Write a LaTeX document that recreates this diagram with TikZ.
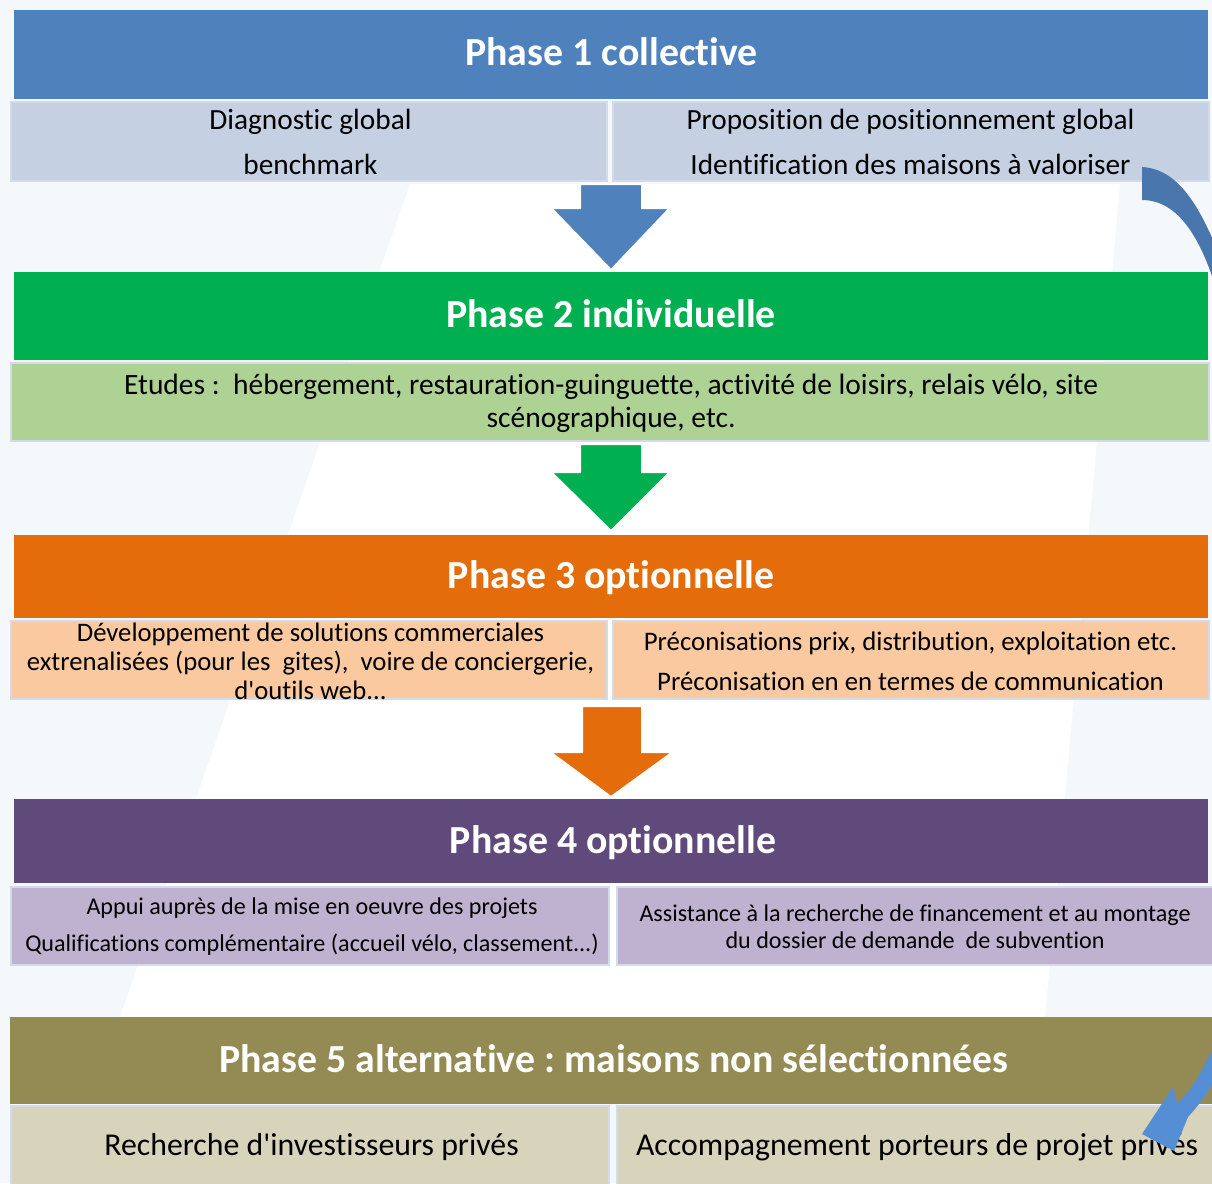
\documentclass[tikz,border=0pt]{standalone}
\usepackage{fontspec}
\setmainfont[Ligatures={NoCommon}]{Carlito}
\frenchspacing
\definecolor{bgc}{HTML}{F5F8FB}
\definecolor{h1}{HTML}{4F81BD}
\definecolor{s1}{HTML}{C5D0E3}
\definecolor{h2}{HTML}{00B050}
\definecolor{s2}{HTML}{ADD294}
\definecolor{h3}{HTML}{E46C0A}
\definecolor{s3}{HTML}{FAC9A0}
\definecolor{h4}{HTML}{604A7B}
\definecolor{s4}{HTML}{BFB1D0}
\definecolor{h5}{HTML}{948A54}
\definecolor{s5}{HTML}{D8D3BB}
\definecolor{edgec}{HTML}{D3DAE8}
\definecolor{curvc}{HTML}{4A76AE}
\definecolor{tipc}{HTML}{558ED5}
\tikzset{
  head/.style={rectangle,inner sep=0pt},
  headtext/.style={text=white,inner sep=0pt,font={\fontsize{39.8}{44}\selectfont\bfseries}},
  sub/.style={rectangle,inner sep=0pt,draw=edgec,line width=2pt},
  subtext/.style={align=center,inner sep=0pt,text=black},
  blockarrow/.style={draw=white,line width=2pt,line join=miter},
}
\begin{document}
\begin{tikzpicture}[x=1pt,y=-1pt]
\useasboundingbox (0,0) rectangle (1212,1183);
\fill[bgc] (0,0) rectangle (1212,1183);
\fill[white] (410,184) -- (1120,184) -- (1045,1017) -- (120,1017) -- cycle;
\begin{scope}
\clip (0,0) rectangle (1212,1183);
% Phase 1
\node[head,fill=h1,minimum width=1194pt,minimum height=89pt] (p1) at (611,54.5) {};
\node[headtext] (p1t) at (611.5,52) {Phase 1 collective};
\node[sub,fill=s1,minimum width=596pt,minimum height=79pt] (p1l) at (309,141.5) {};
\node[sub,fill=s1,minimum width=596pt,minimum height=79pt] (p1r) at (911,141.5) {};
\node[subtext,font={\fontsize{29.3}{45}\selectfont}] (p1lt) at (310.5,141.5) {Diagnostic global\\benchmark};
\node[subtext,font={\fontsize{29.3}{45}\selectfont}] (p1rt) at (910.5,141.5) {Proposition de positionnement global\\Identification des maisons à valoriser};
% Arrow 1
\draw[blockarrow,fill=h1] (580,184) -- (642,184) -- (642,208) -- (670,208) -- (611,270) -- (551,208) -- (580,208) -- cycle;
% Phase 2
\node[head,fill=h2,minimum width=1194pt,minimum height=88pt] (p2) at (611,316) {};
\node[headtext] (p2t) at (611,314) {Phase 2 individuelle};
\node[sub,fill=s2,minimum width=1198pt,minimum height=78pt] (p2s) at (610,402) {};
\node[subtext,font={\fontsize{29.5}{33}\selectfont}] (p2st) at (611,403) {Etudes :\ \ hébergement, restauration-guinguette, activité de loisirs, relais vélo, site\\scénographique, etc.};
% Arrow 2
\draw[blockarrow,fill=h2] (580,444) -- (642,444) -- (642,472) -- (670,472) -- (611,531) -- (551,472) -- (580,472) -- cycle;
% Phase 3
\node[head,fill=h3,minimum width=1194pt,minimum height=83pt] (p3) at (611,576.5) {};
\node[headtext] (p3t) at (611,578) {Phase 3 optionnelle};
\node[sub,fill=s3,minimum width=596pt,minimum height=78pt] (p3l) at (309,660) {};
\node[sub,fill=s3,minimum width=596pt,minimum height=78pt] (p3r) at (911,660) {};
\node[subtext,font={\fontsize{26.7}{29}\selectfont}] (p3lt) at (310.5,661) {Développement de solutions commerciales\\extrenalisées (pour les\ \ gites),\ \ voire de conciergerie,\\d\textquotesingle outils web...};
\node[subtext,font={\fontsize{26.8}{40}\selectfont}] (p3rt) at (910.5,661) {Préconisations prix, distribution, exploitation etc.\\Préconisation en en termes de communication};
% Arrow 3
\draw[blockarrow,fill=h3] (582,706) -- (642,706) -- (642,752) -- (673,752) -- (611,797) -- (550,752) -- (582,752) -- cycle;
% Phase 4
\node[head,fill=h4,minimum width=1194pt,minimum height=84pt] (p4) at (611,841) {};
\node[headtext] (p4t) at (613,843) {Phase 4 optionnelle};
\node[sub,fill=s4,minimum width=598pt,minimum height=78pt] (p4l) at (310,926) {};
\node[sub,fill=s4,minimum width=596pt,minimum height=78pt] (p4r) at (915,926) {};
\node[subtext,font={\fontsize{24.1}{37}\selectfont}] (p4lt) at (312,926.5) {Appui auprès de la mise en oeuvre des projets\\Qualifications complémentaire (accueil vélo, classement...)};
\node[subtext,font={\fontsize{24.1}{27}\selectfont}] (p4rt) at (915,926.5) {Assistance à la recherche de financement et au montage\\du dossier de demande\ \ de subvention};
% Phase 5
\node[head,fill=h5,minimum width=1202pt,minimum height=87pt] (p5) at (611,1060.5) {};
\node[headtext] (p5t) at (614,1059) {Phase 5 alternative : maisons non sélectionnées};
\node[sub,fill=s5,minimum width=598pt,minimum height=90pt] (p5l) at (310,1151) {};
\node[sub,fill=s5,minimum width=598pt,minimum height=90pt] (p5r) at (916,1151) {};
\node[subtext,font={\fontsize{31.8}{36}\selectfont}] (p5lt) at (311.5,1147) {Recherche d\textquotesingle investisseurs privés};
\node[subtext,font={\fontsize{31.8}{36}\selectfont}] (p5rt) at (917,1147) {Accompagnement porteurs de projet privés};
% curved arrow top right
\fill[curvc] (1142,167) .. controls (1178,169) and (1200,205) .. (1222,262) -- (1215,285) .. controls (1200,238) and (1178,200) .. (1142,200) -- cycle;
% curved arrow bottom right
\fill[tipc] (1214,1046) .. controls (1202,1072) and (1192,1090) .. (1177,1103) -- (1173,1087) -- (1142,1134) -- (1174,1151) -- (1188,1117) .. controls (1198,1106) and (1207,1094) .. (1214,1081) -- cycle;
\end{scope}
\end{tikzpicture}
\end{document}
